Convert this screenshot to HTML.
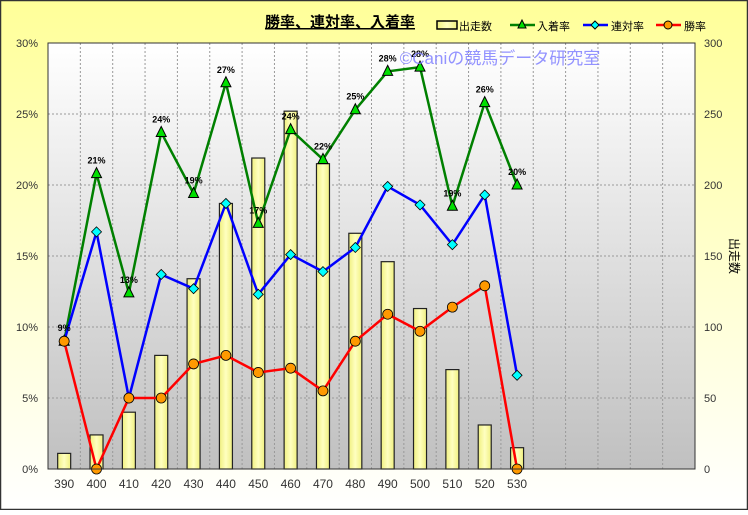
<!DOCTYPE html>
<html><head><meta charset="utf-8"><style>
body{margin:0;width:748px;height:510px;overflow:hidden;font-family:"Liberation Sans","Noto Sans CJK JP",sans-serif}
</style></head><body>
<svg id="s" width="748" height="510" xmlns="http://www.w3.org/2000/svg" font-family="Liberation Sans, Noto Sans CJK JP, sans-serif">
<defs>
<linearGradient id="bg" x1="0" y1="0" x2="0" y2="1"><stop offset="0" stop-color="#ffff99"/><stop offset="1" stop-color="#ffffff"/></linearGradient>
<linearGradient id="pa" x1="0" y1="0" x2="0" y2="1"><stop offset="0" stop-color="#ffffff"/><stop offset="1" stop-color="#c0c0c0"/></linearGradient>
<linearGradient id="bar" x1="0" y1="0" x2="1" y2="0"><stop offset="0" stop-color="#f0f080"/><stop offset="0.5" stop-color="#ffffc0"/><stop offset="1" stop-color="#f0f080"/></linearGradient>
</defs>
<rect x="0.5" y="0.5" width="747" height="509" fill="url(#bg)" stroke="#333" stroke-width="1.5"/>
<text x="340" y="27" font-size="15" font-weight="bold" text-anchor="middle" fill="#000" text-decoration="underline">勝率、連対率、入着率</text>
<g id="leg" font-size="11" fill="#000"></g>
<rect x="48" y="43" width="647" height="426" fill="url(#pa)"/>
<g id="g"></g>
<rect x="48" y="43" width="647" height="426" fill="none" stroke="#333"/>
</svg>
<script>
const g=document.getElementById('g'),NS='http://www.w3.org/2000/svg';
function el(t,a,p){const e=document.createElementNS(NS,t);for(const k in a)e.setAttribute(k,a[k]);(p||g).appendChild(e);return e}
const L=48,T=43,B=469,W=647/20;
const yp=v=>B-v*426/30, yc=v=>B-v*426/300, xc=i=>L+W*(i+0.5);
for(let i=1;i<20;i++)el('line',{x1:L+W*i,x2:L+W*i,y1:T,y2:B,stroke:'#999','stroke-dasharray':'2,2'});
for(let k=1;k<6;k++)el('line',{x1:L,x2:L+647,y1:yp(k*5),y2:yp(k*5),stroke:'#999','stroke-dasharray':'2,2'});
for(let k=0;k<=6;k++){
 el('text',{x:38,y:yp(k*5)+4,'font-size':11,'text-anchor':'end',fill:'#333'}).textContent=k*5+'%';
 el('text',{x:704,y:yp(k*5)+4,'font-size':11,fill:'#333'}).textContent=k*50;
}
const cnt=[11,24,40,80,134,187,219,252,215,166,146,113,70,31,15];
const gr=[9,20.8,12.4,23.7,19.4,27.2,17.3,23.9,21.8,25.3,28.0,28.3,18.5,25.8,20.0];
const bl=[9,16.7,5.0,13.7,12.7,18.7,12.3,15.1,13.9,15.6,19.9,18.6,15.8,19.3,6.6];
const rd=[9.0,0,5.0,5.0,7.4,8.0,6.8,7.1,5.5,9.0,10.9,9.7,11.4,12.9,0];
const lab=['9%','21%','13%','24%','19%','27%','17%','24%','22%','25%','28%','28%','19%','26%','20%'];
cnt.forEach((c,i)=>{el('rect',{x:xc(i)-6.5,y:yc(c),width:13,height:B-yc(c),fill:'url(#bar)',stroke:'#222','stroke-width':1.2});
 el('text',{x:xc(i),y:488,'font-size':12,'text-anchor':'middle',fill:'#333'}).textContent=390+i*10;});
function line(d,col){el('polyline',{points:d.map((v,i)=>xc(i)+','+yp(v)).join(' '),fill:'none',stroke:col,'stroke-width':2.5});}
line(gr,'#008000');line(bl,'#0000ff');line(rd,'#ff0000');
gr.forEach((v,i)=>{const x=xc(i),y=yp(v);el('polygon',{points:`${x},${y-6} ${x-5},${y+4} ${x+5},${y+4}`,fill:'#00e000',stroke:'#000'});
 el('text',{x:x,y:y-10,'font-size':9,'font-weight':'bold','text-anchor':'middle',fill:'#000'}).textContent=lab[i];});
bl.forEach((v,i)=>{const x=xc(i),y=yp(v);el('polygon',{points:`${x},${y-5} ${x+5},${y} ${x},${y+5} ${x-5},${y}`,fill:'#00ffff',stroke:'#000','stroke-width':0.8});});
rd.forEach((v,i)=>el('circle',{cx:xc(i),cy:yp(v),r:5,fill:'#ff9900',stroke:'#000','stroke-width':0.8}));
el('text',{x:500,y:64,'font-size':17,'text-anchor':'middle',fill:'#8080ff','fill-opacity':0.85}).textContent='©Caniの競馬データ研究室';
el('text',{x:730,y:256,'font-size':12,'text-anchor':'middle',fill:'#000',transform:'rotate(90 730 256)'}).textContent='出走数';
const lg=document.getElementById('leg');
el('rect',{x:437,y:21,width:20,height:8,fill:'url(#bar)',stroke:'#000','stroke-width':1.5},lg);
el('text',{x:459,y:30},lg).textContent='出走数';
el('line',{x1:510,x2:535,y1:25,y2:25,stroke:'#008000','stroke-width':2.5},lg);
el('polygon',{points:'522,20 518,28 526,28',fill:'#00e000',stroke:'#000'},lg);
el('text',{x:537,y:30},lg).textContent='入着率';
el('line',{x1:583,x2:608,y1:25,y2:25,stroke:'#0000ff','stroke-width':2.5},lg);
el('polygon',{points:'595,21 599,25 595,29 591,25',fill:'#00ffff',stroke:'#000'},lg);
el('text',{x:611,y:30},lg).textContent='連対率';
el('line',{x1:656,x2:681,y1:25,y2:25,stroke:'#ff0000','stroke-width':2.5},lg);
el('circle',{cx:668,cy:25,r:4,fill:'#ff9900',stroke:'#000'},lg);
el('text',{x:684,y:30},lg).textContent='勝率';
</script>
</body></html>
